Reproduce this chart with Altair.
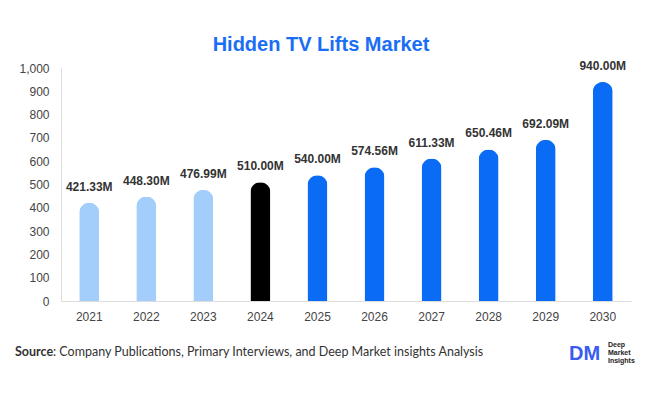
import altair as alt
import pandas as pd

years = ["2021", "2022", "2023", "2024", "2025", "2026", "2027", "2028", "2029", "2030"]
values = [421.33, 448.30, 476.99, 510.00, 540.00, 574.56, 611.33, 650.46, 692.09, 940.00]
periods = ["hist", "hist", "hist", "base", "fc", "fc", "fc", "fc", "fc", "fc"]
labels = [f"{v:,.2f}M" for v in values]
title_text = "Hidden TV Lifts Market"
source_bold = "Source"
source_rest = ": Company Publications, Primary Interviews, and Deep Market insights Analysis"
logo_lines = ["Deep", "Market", "Insights"]

df = pd.DataFrame({"year": years, "value": values, "period": periods, "label": labels})

W, H = 570, 233

x = alt.X("year:N", sort=years, title=None,
          scale=alt.Scale(paddingInner=0.65, paddingOuter=0.32),
          axis=alt.Axis(labelAngle=0, ticks=False, labelPadding=10, labelFontSize=12,
                        labelColor="#444", labelFont="Liberation Sans",
                        domainColor="#dddddd"))
y = alt.Y("value:Q", title=None,
          scale=alt.Scale(domain=[0, 1000]),
          axis=alt.Axis(values=list(range(0, 1001, 100)), format=",d", grid=False, ticks=False,
                        labelOverlap=False,
                        labelPadding=12, labelFontSize=12, labelColor="#444",
                        labelFont="Liberation Sans", domainColor="#dddddd"))

color = alt.Color("period:N", legend=None,
                  scale=alt.Scale(domain=["hist", "base", "fc"],
                                  range=["#a3cdfb", "#000000", "#0a6cf5"]))

base = alt.Chart(df).encode(x=x, y=y)

bars = base.mark_bar(size=20, cornerRadiusTopLeft=10, cornerRadiusTopRight=10).encode(color=color)

text = base.mark_text(dy=-9, baseline="bottom", fontSize=12, fontWeight="bold",
                      font="Liberation Sans", color="#333333").encode(text="label:N")


def label(t, xv, yv, **kw):
    return alt.Chart(pd.DataFrame({"t": [t]})).mark_text(**kw).encode(
        x=alt.value(xv), y=alt.value(yv), text="t:N")


title = label(title_text, 260, -23, fontSize=20, fontWeight="bold", color="#1a6ef5",
              font="Liberation Sans", align="center", baseline="middle")
src1 = label(source_bold, -46, 284, fontSize=12.5, fontWeight="bold", color="#333333",
             font="Lato", align="left", baseline="middle")
src2 = label(source_rest, -8, 284, fontSize=12.5, color="#333333",
             font="Lato", align="left", baseline="middle")
logo = label("DM", 508, 286, fontSize=20, fontWeight="bold", color="#3a5cf0",
             font="Liberation Sans", align="left", baseline="middle")
lw = [label(t, 547, yy, fontSize=7, fontWeight="bold", color="#222222",
            font="Liberation Sans", align="left", baseline="middle")
      for t, yy in zip(logo_lines, [277, 285, 293])]

chart = alt.layer(bars, text, title, src1, src2, logo, *lw).properties(
    width=W, height=H,
    autosize=alt.AutoSizeParams(type="none"),
    padding={"left": 53, "top": 60, "right": 7, "bottom": 85},
).configure(background="white").configure_view(stroke=None)

chart.save("out.html", embed_options={"renderer": "svg", "actions": False})
